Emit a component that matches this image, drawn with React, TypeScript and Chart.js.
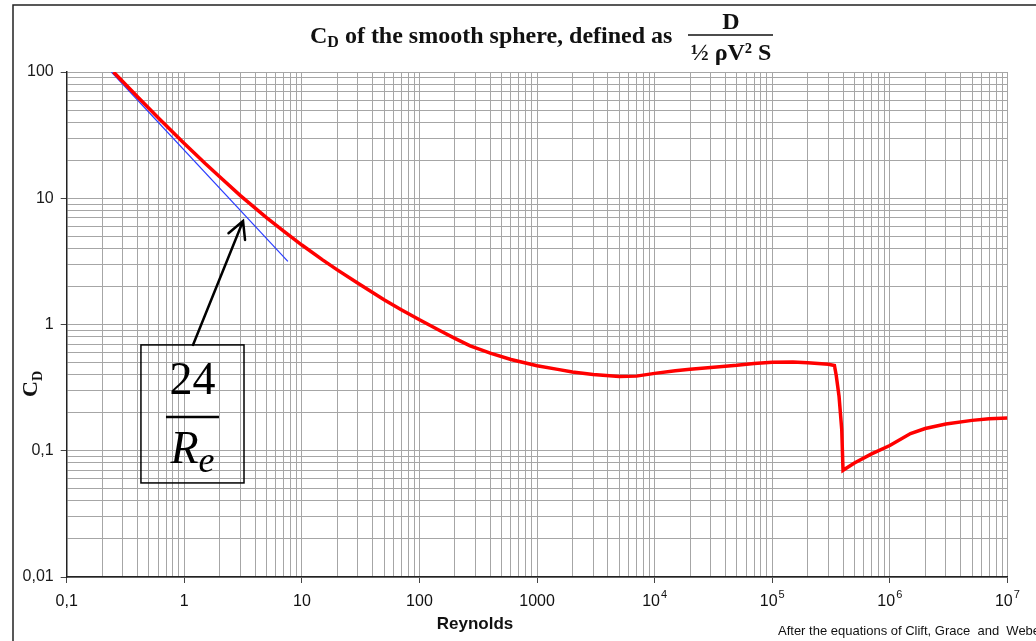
import React, { useEffect, useRef } from 'react';
import { Chart, registerables } from 'chart.js';

Chart.register(...registerables);

// Red curve: drag coefficient of the smooth sphere
const reynolds = [0.25, 0.4, 0.6, 1, 1.5, 2, 3, 5, 7, 10, 15, 20, 30, 50, 70, 100, 150, 200, 270, 400, 600, 1000, 1500, 2000, 3000, 5000, 7000, 10000, 15000, 20000, 30000, 50000, 70000, 100000, 150000, 200000, 300000, 338000, 350000, 370000, 390000, 400000, 500000, 700000, 1000000, 1500000, 2000000, 3000000, 5000000, 7000000, 10000000];
const dragCoefficient = [100, 63.7, 43.4, 27.2, 18.9, 14.8, 10.5, 7.03, 5.48, 4.26, 3.25, 2.71, 2.12, 1.57, 1.31, 1.09, 0.891, 0.777, 0.678, 0.593, 0.528, 0.471, 0.441, 0.421, 0.401, 0.387, 0.39, 0.41, 0.43, 0.442, 0.456, 0.475, 0.492, 0.502, 0.504, 0.498, 0.484, 0.474, 0.397, 0.27, 0.148, 0.07, 0.08, 0.0945, 0.11, 0.137, 0.15, 0.163, 0.174, 0.179, 0.182];

// Blue line: Stokes law 24/Re
const stokesRe = [0.24, 7.6];
const stokesCd = [100, 3.16];

// Axis ticks
const xDecades = [-1, 0, 1, 2, 3, 4, 5, 6, 7];
const xTickLabels = ['0,1', '1', '10', '100', '1000', '10^4', '10^5', '10^6', '10^7'];
const yTickValues = [100, 10, 1, 0.1, 0.01];
const yTickLabels = ['100', '10', '1', '0,1', '0,01'];

// Annotation (data coordinates)
const boxRe = [0.428, 3.22];
const boxCd = [0.689, 0.0556];
const arrowRe = [1.186, 3.16];
const arrowCd = [0.689, 6.6];

const SANS = '"Liberation Sans", Arial, sans-serif';
const SERIF = '"Liberation Serif", "Times New Roman", serif';

function gridValues(minExp: number, maxExp: number): number[] {
  const out: number[] = [];
  for (let k = minExp; k < maxExp; k++) {
    for (let m = 1; m <= 9; m++) out.push(m * Math.pow(10, k));
  }
  out.push(Math.pow(10, maxExp));
  return out;
}

function isDecade(v: number): boolean {
  const l = Math.log10(v);
  return Math.abs(l - Math.round(l)) < 1e-6;
}

const overlay = {
  id: 'overlay',
  afterDraw(chart: any) {
    const ctx: CanvasRenderingContext2D = chart.ctx;
    const xs = chart.scales.x;
    const ys = chart.scales.y;
    ctx.save();

    // page frame
    ctx.strokeStyle = '#222';
    ctx.lineWidth = 1.5;
    ctx.beginPath();
    ctx.moveTo(13, 641);
    ctx.lineTo(13, 5);
    ctx.lineTo(1036, 5);
    ctx.stroke();

    // x tick labels
    ctx.fillStyle = '#111';
    ctx.textBaseline = 'alphabetic';
    xDecades.forEach((d, i) => {
      const px = xs.getPixelForValue(Math.pow(10, d));
      const lab = xTickLabels[i];
      if (lab.includes('^')) {
        const [b, e] = lab.split('^');
        ctx.font = `16px ${SANS}`;
        const wb = ctx.measureText(b).width;
        ctx.font = `11px ${SANS}`;
        const we = ctx.measureText(e).width;
        const start = px - (wb + we + 1) / 2;
        ctx.textAlign = 'left';
        ctx.font = `16px ${SANS}`;
        ctx.fillText(b, start, 606);
        ctx.font = `11px ${SANS}`;
        ctx.fillText(e, start + wb + 1, 598);
      } else {
        ctx.font = `16px ${SANS}`;
        ctx.textAlign = 'center';
        ctx.fillText(lab, px, 606);
      }
    });

    // x title
    ctx.font = `bold 17px ${SANS}`;
    ctx.textAlign = 'center';
    ctx.fillText('Reynolds', 475, 629);

    // footnote
    ctx.font = `13px ${SANS}`;
    ctx.textAlign = 'left';
    ctx.fillText('After the equations of Clift, Grace  and  Weber', 778, 635);

    // y title (rotated)
    ctx.save();
    ctx.translate(37, 397);
    ctx.rotate(-Math.PI / 2);
    ctx.font = `bold 22px ${SERIF}`;
    ctx.textAlign = 'left';
    ctx.fillText('C', 0, 0);
    const wc = ctx.measureText('C').width;
    ctx.font = `bold 14px ${SERIF}`;
    ctx.fillText('D', wc, 5);
    ctx.restore();

    // main title
    ctx.textAlign = 'left';
    ctx.font = `bold 24px ${SERIF}`;
    let tx = 310;
    ctx.fillText('C', tx, 43);
    tx += ctx.measureText('C').width;
    ctx.font = `bold 16px ${SERIF}`;
    ctx.fillText('D', tx, 47);
    tx += ctx.measureText('D').width;
    ctx.font = `bold 24px ${SERIF}`;
    ctx.fillText(' of the smooth sphere, defined as', tx, 43);
    ctx.textAlign = 'center';
    ctx.fillText('D', 731, 29);
    ctx.lineWidth = 1.5;
    ctx.strokeStyle = '#111';
    ctx.beginPath();
    ctx.moveTo(688, 35);
    ctx.lineTo(773, 35);
    ctx.stroke();
    ctx.font = `bold 24px ${SERIF}`;
    ctx.fillText('½ ρV² S', 731, 60);

    // annotation box
    const bl = xs.getPixelForValue(boxRe[0]);
    const br = xs.getPixelForValue(boxRe[1]);
    const bt = ys.getPixelForValue(boxCd[0]);
    const bb = ys.getPixelForValue(boxCd[1]);
    ctx.strokeStyle = '#000';
    ctx.lineWidth = 1.5;
    ctx.strokeRect(bl, bt, br - bl, bb - bt);
    const cx = (bl + br) / 2;
    ctx.fillStyle = '#000';
    ctx.font = `46px ${SERIF}`;
    ctx.textAlign = 'center';
    ctx.fillText('24', cx, bt + 49);
    ctx.lineWidth = 2.5;
    ctx.beginPath();
    ctx.moveTo(cx - 26.5, bt + 72);
    ctx.lineTo(cx + 26.5, bt + 72);
    ctx.stroke();
    ctx.font = `italic 46px ${SERIF}`;
    const wr = ctx.measureText('R').width;
    ctx.font = `italic 36px ${SERIF}`;
    const we2 = ctx.measureText('e').width;
    const rs = cx - (wr + we2) / 2;
    ctx.textAlign = 'left';
    ctx.font = `italic 46px ${SERIF}`;
    ctx.fillText('R', rs, bt + 118);
    ctx.font = `italic 36px ${SERIF}`;
    ctx.fillText('e', rs + wr, bt + 127);

    // arrow
    const ax0 = xs.getPixelForValue(arrowRe[0]);
    const ay0 = ys.getPixelForValue(arrowCd[0]);
    const ax1 = xs.getPixelForValue(arrowRe[1]);
    const ay1 = ys.getPixelForValue(arrowCd[1]);
    ctx.lineWidth = 2.5;
    ctx.lineCap = 'round';
    ctx.beginPath();
    ctx.moveTo(ax0, ay0);
    ctx.lineTo(ax1, ay1);
    const ang = Math.atan2(ay0 - ay1, ax0 - ax1);
    const hl = 19;
    const ha = (28 * Math.PI) / 180;
    ctx.moveTo(ax1 + hl * Math.cos(ang - ha), ay1 + hl * Math.sin(ang - ha));
    ctx.lineTo(ax1, ay1);
    ctx.lineTo(ax1 + hl * Math.cos(ang + ha), ay1 + hl * Math.sin(ang + ha));
    ctx.stroke();

    ctx.restore();
  },
};

export default function App() {
  const ref = useRef<HTMLCanvasElement | null>(null);

  useEffect(() => {
    if (!ref.current) return;
    const xGrid = gridValues(-1, 7);
    const yGrid = gridValues(-2, 2);
    const chart = new Chart(ref.current, {
      type: 'line',
      data: {
        datasets: [
          {
            label: 'CD',
            data: reynolds.map((x, i) => ({ x, y: dragCoefficient[i] })),
            borderColor: '#ff0000',
            borderWidth: 3.5,
            pointRadius: 0,
            tension: 0,
            order: 0,
          },
          {
            label: '24/Re',
            data: stokesRe.map((x, i) => ({ x, y: stokesCd[i] })),
            borderColor: '#2a3cff',
            borderWidth: 1.2,
            pointRadius: 0,
            tension: 0,
            order: 1,
          },
        ],
      },
      options: {
        animation: false,
        responsive: false,
        layout: { padding: { top: 72, right: 28.6, left: 0, bottom: 0 } },
        plugins: {
          legend: { display: false },
          tooltip: { enabled: false },
          title: { display: false },
        },
        scales: {
          x: {
            type: 'logarithmic',
            min: 0.1,
            max: 1e7,
            afterBuildTicks: (s: any) => {
              s.ticks = xGrid.map((v) => ({ value: v }));
            },
            afterFit: (s: any) => {
              s.height = 64;
            },
            ticks: { display: false },
            grid: {
              color: '#a6a6a6',
              lineWidth: 1,
              tickLength: 6,
              tickColor: (c: any) => (c.tick && isDecade(c.tick.value) ? '#444' : 'rgba(0,0,0,0)'),
            },
            border: { color: '#222', width: 1.5 },
          },
          y: {
            type: 'logarithmic',
            min: 0.01,
            max: 100,
            afterBuildTicks: (s: any) => {
              s.ticks = yGrid.map((v) => ({ value: v }));
            },
            afterFit: (s: any) => {
              s.width = 66.7;
            },
            ticks: {
              autoSkip: false,
              padding: 7,
              color: '#1a1a1a',
              font: { family: SANS, size: 16 },
              callback: (v: any) => {
                const idx = yTickValues.findIndex((t) => Math.abs(Math.log10(t) - Math.log10(Number(v))) < 1e-6);
                return idx >= 0 ? yTickLabels[idx] : '';
              },
            },
            grid: {
              color: '#a6a6a6',
              lineWidth: 1,
              tickLength: 6,
              tickColor: (c: any) => (c.tick && isDecade(c.tick.value) ? '#444' : 'rgba(0,0,0,0)'),
            },
            border: { color: '#222', width: 1.5 },
          },
        },
      },
      plugins: [overlay],
    });
    return () => chart.destroy();
  }, []);

  return (
    <div style={{ position: 'absolute', left: 0, top: 0, width: 1036, height: 641, background: '#fff' }}>
      <canvas ref={ref} width={1036} height={641} style={{ display: 'block' }} />
    </div>
  );
}
